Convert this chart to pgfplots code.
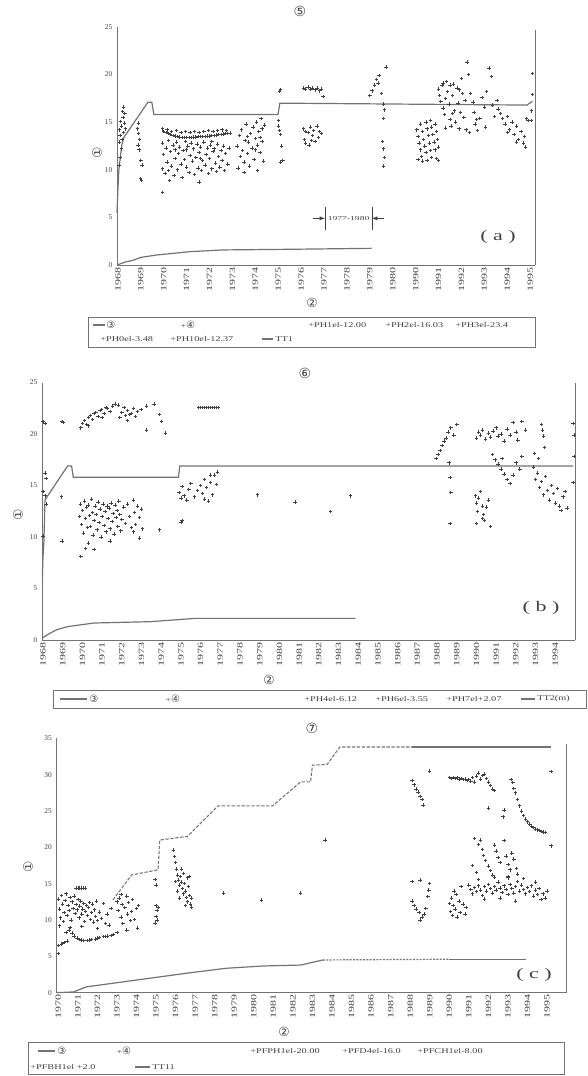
\documentclass[border=0pt]{standalone}
\usepackage{fontspec}
\setmainfont{Liberation Serif}
\newfontfamily\dv{DejaVu Sans}
\usepackage{graphicx}
\usepackage{pgfplots}
\pgfplotsset{compat=1.18}
\newcommand\cn[1]{{\dv\fontsize{7.5}{8}\selectfont #1}}
\newcommand\yr[1]{\scalebox{1.5}[1]{#1}}
\newcommand\lgt[1]{\scalebox{1.4}[1]{\fontsize{5.5}{6}\selectfont #1}}
\definecolor{ink}{gray}{0.25}
\definecolor{lin}{gray}{0.45}
\pgfplotsset{
  panel/.style={scale only axis, clip=false, anchor=south west,
    axis x line*=bottom, axis y line*=left,
    axis line style={lin, line width=0.6pt},
    tick style={draw=none}, ymin=0,
    xticklabel style={rotate=90, anchor=east, font=\fontsize{6}{6}\selectfont, text=ink, inner sep=1.5pt},
    yticklabel style={font=\fontsize{5.5}{6}\selectfont, text=ink},
    /pgf/number format/assume math mode=true},
  pts/.style={only marks, mark=+, mark size=1.3pt, color=ink, mark options={line width=0.55pt}},
  ln/.style={no marks, color=lin, line width=0.9pt},
}
\begin{document}
\begin{tikzpicture}
\path[use as bounding box] (0,0) rectangle (440.25pt,807pt);
% ---------------- panel (a)
\begin{axis}[panel, at={(87.75pt,608.25pt)}, width=313.5pt, height=178.5pt,
  xmin=-0.04, xmax=18.21, ymax=25, ytick={0,5,...,25},
  xtick={0,...,18}, xticklabels={\yr{1968},\yr{1969},\yr{1970},\yr{1971},\yr{1972},\yr{1973},\yr{1974},\yr{1975},\yr{1976},\yr{1977},\yr{1978},\yr{1979},\yr{1980},\yr{1990},\yr{1991},\yr{1992},\yr{1993},\yr{1994},\yr{1995}}]
\addplot[ln] coordinates {(-0.04,5.5) (0.0,7.9) (0.04,10.0) (0.09,11.0) (0.17,12.6) (0.26,13.4) (1.31,17.1) (1.48,17.1) (1.57,15.8) (6.99,15.8) (7.07,17.0) (17.86,16.8) (18.1,17.2)};
\addplot[ln] coordinates {(-0.04,0) (0.3,0.3) (0.67,0.5) (1.0,0.8) (1.69,1.05) (3.14,1.4) (4.58,1.58) (7.5,1.65) (11.08,1.75)};
\addplot[pts] coordinates {(0.05,14.2) (0.1,13.6) (0.12,15.1) (0.15,14.6) (0.2,16.1) (0.22,15.5) (0.25,13.9) (0.28,14.9) (0.08,12.9) (0.18,13.2) (0.3,15.9) (0.25,16.6) (0.15,12.2) (0.32,14.3) (0.1,11.3) (0.05,10.5)
 (0.85,14.3) (0.9,13.8) (0.95,13.2) (0.88,12.6) (0.92,12.1) (1.0,11.0) (1.05,10.5) (0.98,9.1) (1.02,8.9) (0.9,14.9)};
\addplot[pts] coordinates {(2.0,14.0) (2.1,13.9) (2.2,13.8) (2.3,13.7) (2.4,13.6) (2.5,13.55) (2.6,13.5) (2.7,13.45) (2.8,13.4) (2.9,13.4) (3.0,13.4) (3.1,13.4) (3.2,13.4) (3.3,13.45) (3.4,13.45) (3.5,13.5) (3.6,13.5) (3.7,13.5) (3.8,13.5) (3.9,13.55) (4.0,13.55) (4.1,13.6) (4.2,13.6) (4.3,13.65) (4.4,13.7) (4.5,13.7) (4.6,13.75) (4.7,13.8) (4.8,13.8) (4.9,13.85)
 (1.95,14.3) (2.15,14.2) (2.35,14.0) (2.55,14.1) (2.75,13.9) (2.95,14.0) (3.15,13.9) (3.35,14.0) (3.55,13.9) (3.75,14.0) (3.95,14.1) (4.15,14.0) (4.35,14.1) (4.55,14.2) (4.75,14.1)};
\addplot[pts] coordinates {(1.95,12.8) (1.95,10.1) (2.0,11.6) (2.05,9.6) (2.1,12.3) (2.15,10.8) (2.2,13.1) (2.2,9.9) (2.3,11.9) (2.35,10.4) (2.4,12.6) (2.45,9.4) (2.5,11.2) (2.55,12.9) (2.6,10.0) (2.65,11.7) (2.7,12.4) (2.75,10.6) (2.8,9.2) (2.85,12.0) (2.9,11.1) (2.95,13.0) (3.0,10.3) (3.05,12.5) (3.1,9.7) (3.15,11.5) (3.2,12.8) (3.25,10.9) (3.3,12.2) (3.35,9.5) (3.4,11.3) (3.45,12.7) (3.5,10.2) (3.55,11.8) (3.6,12.4) (3.65,9.9) (3.7,11.0) (3.75,12.9) (3.8,10.5) (3.85,11.6) (3.9,12.3) (3.95,9.6) (4.0,11.2) (4.05,12.6) (4.1,10.1) (4.15,11.9) (4.2,12.2) (4.25,10.7) (4.3,9.8) (4.35,12.7) (4.4,11.4) (4.45,10.3) (4.5,12.0) (4.55,11.0) (4.6,12.5) (4.65,9.9) (4.7,11.7) (4.8,10.6) (4.85,12.3) (2.25,8.9) (3.55,8.7) (1.95,7.6) (2.5,12.1) (3.0,12.1) (3.6,11.2) (4.1,13.0)};
\addplot[pts] coordinates {(5.2,12.5) (5.25,10.2) (5.3,13.6) (5.35,11.4) (5.4,14.2) (5.45,12.0) (5.5,10.8) (5.55,13.1) (5.6,14.8) (5.65,11.7) (5.7,12.9) (5.75,10.4) (5.8,13.8) (5.85,12.3) (5.9,14.5) (5.95,11.1) (6.0,13.3) (6.05,15.0) (6.1,12.6) (6.15,14.0) (6.2,11.8) (6.25,15.4) (6.3,13.0) (6.35,10.9) (6.1,9.9) (5.5,9.7) (6.4,14.7) (6.0,12.1) (5.65,13.5) (6.2,13.4) (6.3,14.3)
 (7.05,18.2) (7.1,18.4) (7.0,14.6) (7.05,14.1) (7.1,13.7) (7.15,12.5) (7.1,10.8) (7.2,11.0) (7.0,15.2)};
\addplot[pts] coordinates {(8.1,18.6) (8.2,18.5) (8.3,18.7) (8.4,18.5) (8.5,18.6) (8.6,18.4) (8.7,18.6) (8.8,18.3) (8.9,18.5) (8.95,17.7)
 (8.1,14.3) (8.15,13.2) (8.2,12.8) (8.3,13.9) (8.35,12.6) (8.4,14.5) (8.5,13.6) (8.55,14.1) (8.6,13.0) (8.7,14.6) (8.75,13.4) (8.8,14.0) (8.9,13.8) (8.2,14.0) (8.45,13.1)
 (11.0,17.8) (11.1,18.3) (11.2,18.9) (11.3,19.5) (11.35,19.1) (11.5,18.0) (11.7,20.8) (11.6,16.9) (11.65,16.3) (11.6,15.4) (11.55,13.0) (11.6,12.2) (11.65,11.3) (11.6,10.4) (11.4,19.9)};
\addplot[pts] coordinates {(13.05,14.2) (13.1,13.5) (13.15,12.8) (13.2,12.1) (13.25,11.4) (13.3,10.9) (13.2,14.8) (13.3,14.0) (13.35,13.2) (13.4,12.5) (13.45,11.8) (13.5,11.0) (13.45,15.0) (13.5,14.3) (13.55,13.6) (13.6,12.8) (13.65,12.0) (13.7,11.3) (13.65,15.2) (13.7,14.5) (13.75,13.7) (13.8,12.9) (13.85,12.1) (13.9,11.2) (13.85,14.8) (13.9,14.0) (13.95,13.2) (14.0,12.4) (13.1,11.1) (14.0,11.0)};
\addplot[pts] coordinates {(14.0,18.5) (14.05,17.8) (14.1,17.2) (14.15,18.9) (14.2,16.5) (14.25,15.8) (14.3,17.5) (14.35,19.3) (14.4,18.2) (14.45,16.9) (14.5,15.3) (14.55,14.6) (14.6,17.8) (14.65,19.0) (14.7,16.2) (14.75,15.0) (14.8,18.6) (14.85,17.0) (14.9,14.3) (14.95,16.0) (15.0,19.6) (15.05,18.0) (15.1,15.5) (15.15,17.3) (14.3,14.4) (14.6,15.9) (14.9,18.4) (15.2,14.2) (14.5,18.9) (14.2,19.1)
 (15.25,21.3) (15.3,20.0) (15.4,18.0) (15.5,17.1) (15.55,16.0) (15.6,14.8) (15.7,14.1) (15.8,15.4) (15.9,17.6) (16.0,16.6) (16.1,18.2) (16.2,20.7) (16.3,19.8) (16.35,16.8) (16.45,15.6) (16.55,17.3) (16.6,16.4) (15.35,13.9) (15.65,15.3) (16.05,14.5)};
\addplot[pts] coordinates {(16.7,15.9) (16.8,15.4) (16.9,14.8) (17.0,15.6) (17.1,14.2) (17.2,15.0) (17.3,13.7) (17.4,14.6) (17.5,13.2) (17.6,14.0) (17.7,12.8) (17.75,13.5) (17.8,12.4) (17.85,15.4) (17.9,15.2) (17.0,13.9) (17.4,12.9)
 (18.1,20.1) (18.1,17.9) (18.05,16.2) (18.05,15.2)};
\draw[lin, line width=0.6pt] (axis cs:18.21,0) -- (axis cs:18.21,24.7);
\draw[ink, line width=0.4pt] (axis cs:9.04,3.7)--(axis cs:9.04,6.1) (axis cs:11.09,3.7)--(axis cs:11.09,6.1);
\draw[ink, line width=0.4pt, -latex] (axis cs:8.5,4.9)--(axis cs:9.04,4.9);
\draw[ink, line width=0.4pt, -latex] (axis cs:11.6,4.9)--(axis cs:11.09,4.9);
\node[text=ink, inner sep=0] at (axis cs:10.07,4.9) {\scalebox{1.6}[1]{\fontsize{4.5}{5}\selectfont 1977-1980}};
\end{axis}
% ---------------- panel (b)
\begin{axis}[panel, at={(31.5pt,327pt)}, width=399.75pt, height=193.1pt,
  xmin=-0.05, xmax=27.0, ymax=25, ytick={0,5,...,25},
  xtick={0,...,26}, xticklabels={\yr{1968},\yr{1969},\yr{1970},\yr{1971},\yr{1972},\yr{1973},\yr{1974},\yr{1975},\yr{1976},\yr{1977},\yr{1978},\yr{1979},\yr{1980},\yr{1981},\yr{1982},\yr{1983},\yr{1984},\yr{1985},\yr{1986},\yr{1987},\yr{1988},\yr{1989},\yr{1990},\yr{1991},\yr{1992},\yr{1993},\yr{1994}}]
\addplot[ln] coordinates {(-0.03,6.1) (0.0,8.0) (0.05,9.7) (0.1,13.6) (1.25,16.9) (1.45,16.9) (1.54,15.8) (6.88,15.8) (6.94,16.9) (26.9,16.9)};
\addplot[ln] coordinates {(-0.03,0.2) (0.3,0.6) (0.7,1.0) (1.25,1.3) (2.6,1.65) (5.46,1.78) (7.74,2.1) (15.85,2.1)};
\addplot[pts] coordinates {(0.0,21.2) (0.1,21.0) (0.1,16.2) (0.15,15.7) (0.0,14.4) (0.1,14.0) (0.0,10.1) (0.15,13.2) (0.96,21.2) (1.02,21.1) (0.95,13.9) (0.96,9.6)
 (1.92,20.6) (2.0,21.0) (2.11,21.3) (2.2,20.9) (2.3,21.6) (2.4,21.8) (2.5,21.4) (2.6,22.0) (2.68,22.1) (2.8,21.7) (2.9,22.3) (2.97,22.4) (3.1,22.0) (3.2,22.6) (3.26,22.5) (3.4,22.2) (3.54,22.7) (3.65,22.9) (3.83,22.8) (3.9,21.6) (4.0,22.1) (4.12,22.6) (4.2,21.8) (4.3,22.3) (4.4,21.9) (4.5,22.0) (4.6,22.5) (4.69,21.7) (4.8,22.2) (4.97,22.4) (5.26,22.7) (5.64,22.9) (5.26,20.4) (6.02,21.2) (6.21,20.1) (5.9,21.9) (2.3,20.8) (3.0,21.6) (4.3,21.3)
 (7.9,22.6) (8.0,22.6) (8.1,22.6) (8.2,22.6) (8.3,22.6) (8.4,22.6) (8.5,22.6) (8.6,22.6) (8.7,22.6) (8.8,22.6) (8.9,22.6)};
\addplot[pts] coordinates {(1.85,12.0) (1.9,13.2) (1.95,11.2) (2.0,12.6) (2.05,10.4) (2.1,13.5) (2.15,11.8) (2.2,12.9) (2.25,10.9) (2.3,13.1) (2.35,12.1) (2.4,11.0) (2.45,13.7) (2.5,12.4) (2.55,10.2) (2.6,11.6) (2.65,13.0) (2.7,12.2) (2.75,10.7) (2.8,13.4) (2.85,11.4) (2.9,12.7) (2.95,10.0) (3.0,12.0) (3.05,13.2) (3.1,11.1) (3.15,12.5) (3.2,10.5) (3.25,13.0) (3.3,11.8) (3.35,12.8) (3.4,10.8) (3.45,13.3) (3.5,11.5) (3.55,12.3) (3.6,10.3) (3.65,13.1) (3.7,11.9) (3.75,12.6) (3.8,11.0) (3.85,13.5) (3.9,12.2) (3.95,10.6) (4.0,11.7) (4.1,12.9) (4.2,11.3) (4.3,13.2) (4.4,12.0) (4.5,10.9) (4.6,13.6) (4.65,12.4) (4.7,11.2) (4.8,13.0) (4.9,11.9) (5.0,12.7) (5.05,10.8) (2.15,8.9) (1.92,8.1) (2.3,9.4) (2.6,8.8) (3.4,9.6) (4.6,10.5) (5.9,10.7) (4.9,9.9)};
\addplot[pts] coordinates {(6.9,14.3) (7.0,13.8) (7.05,14.9) (7.15,14.0) (7.3,13.6) (7.4,14.6) (7.5,15.2) (7.7,13.9) (7.85,14.5) (8.0,15.0) (8.1,14.2) (8.2,15.6) (8.3,14.8) (8.4,13.5) (8.5,15.3) (8.6,14.1) (8.7,16.0) (8.8,15.1) (8.85,16.3) (8.5,16.0) (8.2,13.7) (7.0,11.4) (7.05,11.6)
 (10.9,14.1) (12.8,13.4) (14.6,12.5) (15.6,14.0)};
\addplot[pts] coordinates {(19.95,17.6) (20.05,18.0) (20.15,18.4) (20.25,18.9) (20.35,19.3) (20.45,19.6) (20.55,20.2) (20.7,20.6) (20.85,19.9) (21.0,20.9) (20.6,17.2) (20.65,15.8) (20.7,14.3) (20.65,11.3)
 (21.95,14.0) (22.0,13.3) (22.05,12.5) (22.1,13.8) (22.2,14.4) (22.3,13.0) (22.35,12.2) (22.4,11.6) (22.5,12.9) (22.6,13.6) (22.7,11.0) (22.0,11.3) (22.3,11.8)};
\addplot[pts] coordinates {(22.0,19.6) (22.1,20.2) (22.2,19.9) (22.3,20.4) (22.45,19.5) (22.6,20.1) (22.7,19.7) (22.85,20.3) (23.0,20.6) (23.1,19.8) (23.25,20.0) (23.4,19.3) (23.55,20.5) (23.7,19.9) (23.85,21.1) (24.0,20.2) (24.1,19.4) (24.3,21.2) (24.5,20.4)
 (22.8,18.0) (22.95,17.5) (23.1,17.1) (23.25,16.6) (23.4,16.1) (23.55,15.6) (23.7,15.2) (23.85,16.0) (24.0,17.2) (24.2,16.6) (23.3,17.6) (24.3,17.8)
 (24.9,16.8) (25.0,15.6) (25.1,16.2) (25.2,14.8) (25.3,15.4) (25.4,14.1) (25.5,15.9) (25.6,14.5) (25.7,13.6) (25.8,15.0) (25.9,14.2) (26.0,13.3) (26.1,14.7) (26.2,13.0) (26.3,12.6) (26.4,13.9) (26.5,14.4) (26.6,12.8) (25.15,17.6) (24.95,18.1)
 (25.3,20.9) (25.35,20.4) (25.4,19.8) (25.45,18.7) (26.9,21.0) (26.95,19.9) (26.95,17.8) (26.9,15.3)};
\draw[lin, line width=0.6pt] (axis cs:27.0,0) -- (axis cs:27.0,25);
\end{axis}
% ---------------- panel (c)
\begin{axis}[panel, at={(42.3pt,62.5pt)}, width=382.2pt, height=190.8pt,
  xmin=-0.1, xmax=25.97, ymax=35, ytick={0,5,...,35},
  xtick={0,...,25}, xticklabels={\yr{1970},\yr{1971},\yr{1972},\yr{1973},\yr{1974},\yr{1975},\yr{1976},\yr{1977},\yr{1978},\yr{1979},\yr{1980},\yr{1981},\yr{1982},\yr{1983},\yr{1984},\yr{1985},\yr{1986},\yr{1987},\yr{1988},\yr{1989},\yr{1990},\yr{1991},\yr{1992},\yr{1993},\yr{1994},\yr{1995}}]
\addplot[ln, line width=0.8pt, dash pattern=on 2.5pt off 1.2pt] coordinates {(2.79,12.75) (3.75,16.2) (5.1,16.9) (5.19,21.0) (6.6,21.5) (8.17,25.7) (10.96,25.7) (12.4,29.0) (12.9,29.0) (13.0,31.3) (13.75,31.4) (14.4,33.8) (18.1,33.8)};
\addplot[ln] coordinates {(18.1,33.8) (25.2,33.8)};
\addplot[ln] coordinates {(-0.1,0) (0.77,0.1) (1.44,0.8) (6.63,2.7) (8.56,3.35) (10.47,3.67) (12.4,3.8) (13.54,4.5)};
\addplot[ln, dash pattern=on 1.5pt off 1pt] coordinates {(13.54,4.5) (20.0,4.6)};
\addplot[ln] coordinates {(20.0,4.6) (23.9,4.6)};
\addplot[pts] coordinates {(0.0,6.5) (0.15,6.7) (0.3,6.9) (0.45,7.1) (0.55,8.6) (0.6,9.0) (0.7,8.2) (0.8,7.8) (0.95,7.5) (1.1,7.3) (1.3,7.2) (1.5,7.2) (1.7,7.3) (1.9,7.4) (2.1,7.6) (2.3,7.7) (2.5,7.8) (2.7,7.9) (2.8,8.0) (0.2,6.8) (1.2,7.25) (1.6,7.25) (2.0,7.5) (2.4,7.75)
 (0.0,12.9) (0.05,11.5) (0.1,10.3) (0.15,13.4) (0.2,12.2) (0.25,9.8) (0.3,11.0) (0.35,12.7) (0.4,13.6) (0.45,10.6) (0.5,12.0) (0.55,11.3) (0.6,13.1) (0.65,10.0) (0.7,12.5) (0.75,11.6) (0.8,13.3) (0.85,10.9) (0.9,12.1) (0.95,11.4) (1.0,12.8) (1.05,10.3) (1.1,11.9) (1.15,12.6) (1.2,10.8) (1.25,11.5) (1.3,12.3) (1.35,9.8) (1.4,11.2) (1.45,12.0) (1.5,10.6) (1.55,11.7) (1.6,12.4) (1.65,10.1) (1.7,11.0) (1.75,12.2) (1.8,9.7) (1.85,11.4) (1.9,10.5) (1.95,12.6) (2.0,9.9) (2.1,11.1) (2.2,10.2) (2.3,12.3) (2.4,9.5) (2.5,10.8) (2.6,9.3) (2.7,11.6) (0.05,9.2) (0.0,5.4) (0.4,8.3) (1.2,9.1) (2.0,8.8)
 (0.9,14.4) (1.0,14.4) (1.1,14.4) (1.2,14.4) (1.3,14.4) (1.4,14.4)};
\addplot[pts] coordinates {(3.0,12.5) (3.05,11.3) (3.1,13.0) (3.2,10.4) (3.25,12.1) (3.3,9.5) (3.4,11.7) (3.5,13.3) (3.55,10.8) (3.6,12.4) (3.7,9.9) (3.75,11.2) (3.8,12.8) (3.9,10.1) (4.0,11.6) (4.05,8.9) (4.1,12.0) (3.0,8.3) (3.5,8.6) (3.2,13.5)
 (4.95,15.6) (5.0,14.8) (5.0,12.0) (5.05,11.3) (5.0,10.5) (5.05,10.0) (4.95,9.6) (5.1,11.7)
 (5.9,19.6) (5.95,18.7) (6.0,17.9) (6.05,17.0) (6.1,16.2) (6.15,15.5) (6.2,14.8) (6.25,16.0) (6.3,15.2) (6.35,14.3) (6.4,13.6) (6.45,15.0) (6.5,14.0) (6.55,13.1) (6.6,12.5) (6.65,14.6) (6.7,13.4) (6.75,12.2) (6.8,11.8) (6.0,15.3) (6.2,13.0) (6.4,16.4) (6.6,15.8) (6.8,13.0) (6.1,14.0) (6.5,12.0) (6.3,17.0) (6.7,16.0)
 (8.46,13.7) (10.4,12.75) (12.4,13.7) (13.65,21.0)};
\addplot[pts] coordinates {(19.0,30.5) (18.1,29.2) (18.2,28.6) (18.3,28.0) (18.4,27.6) (18.5,27.0) (18.6,26.6) (18.65,25.8) (18.1,15.3) (18.5,15.5) (19.0,15.0) (18.95,14.1) (18.9,13.2) (18.1,12.6) (18.2,12.0) (18.3,11.5) (18.45,11.0) (18.6,10.4) (18.7,10.8) (18.8,11.6) (18.5,10.0)
 (20.0,12.3) (20.05,11.2) (20.1,13.0) (20.15,10.6) (20.2,12.0) (20.3,11.5) (20.35,13.5) (20.4,10.4) (20.5,12.6) (20.55,11.0) (20.6,14.6) (20.7,12.2) (20.8,10.8) (20.85,11.7) (20.25,14.0)};
\addplot[pts] coordinates {(20.0,29.6) (20.1,29.5) (20.2,29.6) (20.3,29.5) (20.4,29.6) (20.5,29.4) (20.6,29.5) (20.7,29.3) (20.8,29.4) (20.9,29.2) (21.0,29.3) (21.1,29.1) (21.2,29.6) (21.3,29.0) (21.4,29.8) (21.5,30.2) (21.6,29.4) (21.7,29.9) (21.8,30.1) (21.9,29.5) (22.0,29.0) (22.1,28.5) (22.2,28.0) (22.3,27.8)
 (23.15,29.3) (23.25,28.9) (23.3,28.1) (23.4,27.5) (23.5,26.6) (23.6,25.7) (23.7,25.0) (23.8,24.4) (23.9,23.9) (24.0,23.5) (24.1,23.2) (24.2,22.9) (24.3,22.7) (24.4,22.5) (24.5,22.4) (24.6,22.3) (24.7,22.2) (24.8,22.1) (24.9,22.0)
 (22.0,25.4) (22.8,25.1) (22.75,24.2) (25.2,30.4) (25.2,20.2)};
\addplot[pts] coordinates {(21.3,21.2) (21.5,20.4) (21.6,21.0) (21.7,19.7) (21.75,18.9) (21.85,18.2) (22.0,17.4) (22.1,16.8) (22.3,20.3) (22.4,19.5) (22.5,18.6) (22.6,17.9) (22.8,20.9) (22.9,18.8) (23.0,17.6) (23.1,16.9) (23.2,19.2) (23.3,18.4) (23.45,17.1) (23.5,16.3) (21.2,17.5) (21.4,16.5) (22.2,16.2) (23.0,15.8)
 (21.0,14.8) (21.1,14.2) (21.2,13.6) (21.3,14.5) (21.4,13.9) (21.5,14.7) (21.6,14.1) (21.7,13.4) (21.8,14.6) (21.9,14.0) (22.0,14.9) (22.1,14.3) (22.2,13.7) (22.3,14.6) (22.4,14.1) (22.5,15.2) (22.6,14.4) (22.7,13.8) (22.8,14.7) (22.9,14.2) (23.0,13.5) (23.1,14.9) (23.2,14.3) (23.3,13.7) (23.4,14.6) (23.5,15.3) (23.6,14.0) (23.7,14.8) (23.8,14.2) (23.9,13.6) (24.0,14.5) (24.1,13.9) (24.2,14.7) (24.3,13.3) (24.4,14.1) (24.5,13.5) (24.6,14.3) (24.7,12.8) (24.8,13.6) (24.9,13.0) (25.0,14.0) (21.5,15.6) (22.3,15.9) (23.0,16.0) (23.8,15.7) (24.4,15.2) (21.8,12.9) (22.6,13.0) (23.4,12.6)};
\draw[lin, line width=0.6pt] (axis cs:25.97,0) -- (axis cs:25.97,34.2);
\end{axis}
% ---------------- annotations in pixel coordinates
\begin{scope}[x=0.75pt,y=-0.75pt,yshift=807pt]
\tikzset{circ/.style={font=\dv\fontsize{10.5}{11}\selectfont, text=ink, inner sep=0}}
\node[circ] at (300,11) {⑤};
\node[circ] at (305,373) {⑥};
\node[circ] at (312,728) {⑦};
\node[circ, font=\dv\fontsize{9.5}{10}\selectfont] at (312,303) {②};
\node[circ, font=\dv\fontsize{9.5}{10}\selectfont] at (269,680) {②};
\node[circ, font=\dv\fontsize{9.5}{10}\selectfont] at (284,1032) {②};
\node[circ, font=\dv\fontsize{9.5}{10}\selectfont, rotate=90] at (97,153) {①};
\node[circ, font=\dv\fontsize{9.5}{10}\selectfont, rotate=90] at (18,515) {①};
\node[circ, font=\dv\fontsize{9.5}{10}\selectfont, rotate=90] at (28,867) {①};
\node[text=ink, inner sep=0] at (498,237) {\scalebox{1.5}[1]{\fontsize{11}{11}\selectfont ( a )}};
\node[text=ink, inner sep=0] at (541,608) {\scalebox{1.5}[1]{\fontsize{11}{11}\selectfont ( b )}};
\node[text=ink, inner sep=0] at (534,975) {\scalebox{1.5}[1]{\fontsize{11}{11}\selectfont ( c )}};
\tikzset{lt/.style={anchor=west, inner sep=0, text=ink}}
% legend (a)
\draw[lin, line width=0.5pt] (88,317) rectangle (535,347);
\draw[lin, line width=0.8pt] (93,325)--(105,325);
\node[lt] at (106,325) {\cn{③}};
\node[lt] at (180,325) {\lgt{+}\cn{④}};
\node[lt] at (308,325) {\lgt{+PH1el-12.00}};
\node[lt] at (385,325) {\lgt{+PH2el-16.03}};
\node[lt] at (455,325) {\lgt{+PH3el-23.4}};
\node[lt] at (100,339) {\lgt{+PH0el-3.48}};
\node[lt] at (170,339) {\lgt{+PH10el-12.37}};
\draw[lin, line width=0.8pt] (262,339)--(273,339);
\node[lt] at (275,339) {\lgt{TT1}};
% legend (b)
\draw[lin, line width=0.5pt] (53,690) rectangle (586,708);
\draw[lin, line width=0.8pt] (60,699)--(87,699);
\node[lt] at (89,699) {\cn{③}};
\node[lt] at (165,699) {\lgt{+}\cn{④}};
\node[lt] at (304,699) {\lgt{+PH4el-6.12}};
\node[lt] at (375,699) {\lgt{+PH6el-3.55}};
\node[lt] at (446,699) {\lgt{+PH7el+2.07}};
\draw[lin, line width=0.8pt] (521,699)--(535,699);
\node[lt] at (537,699) {\lgt{TT2(m)}};
% legend (c)
\draw[lin, line width=0.5pt] (28,1042) rectangle (564,1074);
\draw[lin, line width=0.8pt] (38,1051)--(55,1051);
\node[lt] at (57,1051) {\cn{③}};
\node[lt] at (116,1051) {\lgt{+}\cn{④}};
\node[lt] at (250,1051) {\lgt{+PFPH1el-20.00}};
\node[lt] at (342,1051) {\lgt{+PFD4el-16.0}};
\node[lt] at (417,1051) {\lgt{+PFCH1el-8.00}};
\node[lt] at (30,1067) {\lgt{+PFBH1el +2.0}};
\draw[lin, line width=0.8pt] (135,1067)--(150,1067);
\node[lt] at (152,1067) {\lgt{TT11}};
\end{scope}
\end{tikzpicture}
\end{document}
